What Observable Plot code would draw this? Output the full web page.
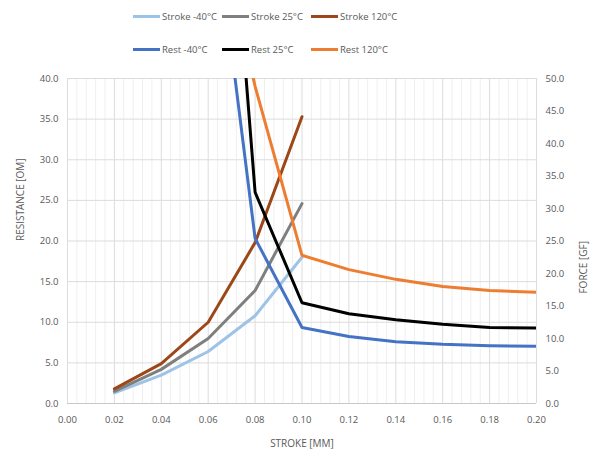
<!DOCTYPE html>
<html>
<head>
<meta charset="utf-8">
<script src="https://cdn.jsdelivr.net/npm/d3@7"></script>
<script src="https://cdn.jsdelivr.net/npm/@observablehq/plot@0.6"></script>
<style>
  body { margin: 0; background: #fff; font-family: "Open Sans", "Liberation Sans", sans-serif; }
  #wrap { width: 595px; height: 455px; position: relative; }
  .legend { position: relative; height: 65px; }
  .row { position: absolute; left: 133px; display: grid; grid-template-columns: 89px 89px 89px; }
  .item { display: flex; align-items: center; font-size: 9.5px; color: #595959; white-space: nowrap; }
  .swatch { width: 27px; height: 3px; margin-right: 2px; }
  svg { display: block; }
</style>
</head>
<body>
<div id="wrap">
  <div class="legend" id="legend"></div>
  <div id="chart"></div>
</div>
<script>
// Stroke sweep: resistance (Ω) read on the left axis
const strokePos = [0.02, 0.04, 0.06, 0.08, 0.10];
const strokeM40 = [1.3, 3.5, 6.4, 10.8, 18.0];
const stroke25 = [1.5, 4.2, 8.0, 13.9, 24.6];
const stroke120 = [1.8, 4.9, 10.0, 19.8, 35.3];

// Rest: force (gf) read on the right axis
const restPos = [0.06, 0.08, 0.10, 0.12, 0.14, 0.16, 0.18, 0.20];
const restM40 = [83, 25.4, 11.7, 10.3, 9.5, 9.1, 8.9, 8.8];
const rest25 = [124, 32.5, 15.5, 13.8, 12.9, 12.2, 11.7, 11.6];
const rest120 = [80, 48.8, 22.8, 20.6, 19.1, 18.0, 17.4, 17.1];

const seriesNames = ["Stroke -40°C", "Stroke 25°C", "Stroke 120°C", "Rest -40°C", "Rest 25°C", "Rest 120°C"];
const seriesColors = ["#9dc3e6", "#7f7f7f", "#9c4718", "#4472c4", "#000000", "#ed7d31"];

const xTicks = [0, 0.02, 0.04, 0.06, 0.08, 0.10, 0.12, 0.14, 0.16, 0.18, 0.20];
const xMinorTicks = [0.004, 0.008, 0.012, 0.016, 0.024, 0.028, 0.032, 0.036, 0.044, 0.048, 0.052, 0.056,
  0.064, 0.068, 0.072, 0.076, 0.084, 0.088, 0.092, 0.096, 0.104, 0.108, 0.112, 0.116,
  0.124, 0.128, 0.132, 0.136, 0.144, 0.148, 0.152, 0.156, 0.164, 0.168, 0.172, 0.176,
  0.184, 0.188, 0.192, 0.196];
const resistanceTicks = [0, 5, 10, 15, 20, 25, 30, 35, 40];
const forceTicks = [0, 5, 10, 15, 20, 25, 30, 35, 40, 45, 50];

const forceMax = 50, resistanceMax = 40;
const toLeft = f => f * resistanceMax / forceMax;

const rows = [];
const addSeries = (name, xs, ys, conv) => xs.forEach((x, i) => rows.push({series: name, x, y: conv(ys[i])}));
addSeries("Stroke -40°C", strokePos, strokeM40, v => v);
addSeries("Stroke 25°C", strokePos, stroke25, v => v);
addSeries("Stroke 120°C", strokePos, stroke120, v => v);
addSeries("Rest -40°C", restPos, restM40, toLeft);
addSeries("Rest 25°C", restPos, rest25, toLeft);
addSeries("Rest 120°C", restPos, rest120, toLeft);

// Legend (two rows of three)
const legend = document.getElementById("legend");
[[0, 3, 10], [3, 6, 43]].forEach(([a, b, top]) => {
  const row = document.createElement("div");
  row.className = "row";
  row.style.top = top + "px";
  for (let i = a; i < b; i++) {
    const it = document.createElement("div");
    it.className = "item";
    it.innerHTML = `<span class="swatch" style="background:${seriesColors[i]}"></span>${seriesNames[i]}`;
    row.appendChild(it);
  }
  legend.appendChild(row);
});

const font = "Open Sans, Liberation Sans, sans-serif";
const chart = Plot.plot({
  width: 595,
  height: 390,
  marginTop: 13,
  marginBottom: 52,
  marginLeft: 67,
  marginRight: 59,
  style: {fontFamily: font, fontSize: "9.5px", color: "#595959", background: "#fff"},
  x: {domain: [0, 0.2]},
  y: {domain: [0, 40]},
  color: {domain: seriesNames, range: seriesColors},
  marks: [
    Plot.ruleX(xMinorTicks, {stroke: "#efefef", strokeWidth: 1}),
    Plot.ruleX(xTicks, {stroke: "#dcdcdc", strokeWidth: 1}),
    Plot.ruleY(resistanceTicks, {stroke: "#dcdcdc", strokeWidth: 1}),
    Plot.ruleY([0], {stroke: "#c8c8c8", strokeWidth: 1}),
    Plot.axisX({ticks: xTicks, tickFormat: d => d.toFixed(2), tickSize: 0, tickPadding: 13, label: null, fill: "#595959"}),
    Plot.axisY({ticks: resistanceTicks, tickFormat: d => d.toFixed(1), tickSize: 0, tickPadding: 9, label: null, fill: "#595959"}),
    Plot.text(forceTicks, {y: d => toLeft(d), frameAnchor: "right", dx: 9, textAnchor: "start", text: d => d.toFixed(1), fill: "#595959"}),
    Plot.text(["RESISTANCE [OM]"], {frameAnchor: "left", dx: -47, rotate: -90, fill: "#595959", fontSize: 10}),
    Plot.text(["FORCE [GF]"], {frameAnchor: "right", dx: 47, rotate: -90, fill: "#595959", fontSize: 10}),
    Plot.text(["STROKE [MM]"], {frameAnchor: "bottom", dy: 43, fill: "#595959", fontSize: 10}),
    Plot.line(rows, {x: "x", y: "y", z: "series", stroke: "series", strokeWidth: 3, strokeLinejoin: "round", clip: true})
  ]
});
document.getElementById("chart").appendChild(chart);
</script>
</body>
</html>
